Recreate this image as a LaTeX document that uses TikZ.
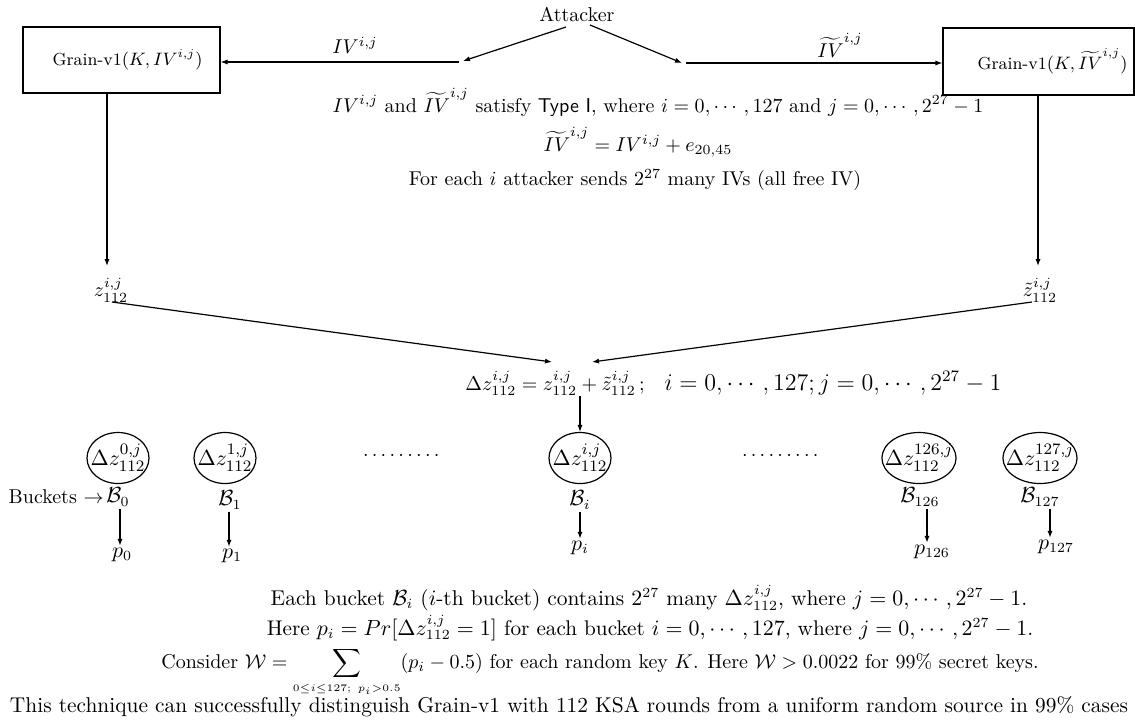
\documentclass[tikz,border=0pt]{standalone}
\usepackage{amsmath,amssymb}
\usetikzlibrary{shapes.geometric,arrows.meta}
\begin{document}
\begin{tikzpicture}[x=0.5pt,y=-0.5pt,
  arr/.style={-{Latex[length=3.5pt,width=2.6pt]},line width=0.6pt},
  gbox/.style={draw,line width=0.6pt,rectangle,inner sep=0pt,font=\fontsize{8.7}{10}\selectfont},
  bucket/.style={draw,ellipse,line width=0.6pt,inner xsep=-4pt,inner ysep=0pt,minimum width=31pt,minimum height=25.5pt,font=\fontsize{11}{13}\selectfont},
  txt/.style={inner sep=1pt},
  big/.style={inner sep=1pt,font=\fontsize{10.7}{13}\selectfont}]
\useasboundingbox (0,0) rectangle (1135,720);
% top
\node[txt] (att) at (577,14) {Attacker};
\node[gbox,minimum width=98.5pt,minimum height=33pt] (lbox) at (121.5,60) {\hspace*{6pt}Grain-v1$(K,IV^{i,j})$};
\node[gbox,minimum width=95.5pt,minimum height=33.5pt] (rbox) at (1038.5,61.5) {\hspace*{14pt}Grain-v1$(K,\widetilde{IV}^{i,j})$};
\coordinate (cL) at (463,61);
\coordinate (cL2) at (459,62);
\coordinate (cR) at (682,63);
\coordinate (cR2) at (686,63);
\draw[arr] (566,27) -- (cL);
\draw[arr] (cL2) -- (lbox.east |- cL2);
\draw[arr] (590,25) -- (cR);
\draw[arr] (cR2) -- (rbox.west |- cR2);
\node[txt] (lIV) at (355,45) {$IV^{i,j}$};
\node[txt] (rIV) at (840,45) {$\widetilde{IV}^{i,j}$};
% middle texts
\node[txt] (t1) at (658,102) {$IV^{i,j}$ and $\widetilde{IV}^{i,j}$ satisfy \textsf{Type I}, where $i=0,\cdots,127$ and $j=0,\cdots,2^{27}-1$};
\node[txt] (t2) at (638,142) {$\widetilde{IV}^{i,j}=IV^{i,j}+e_{20,45}$};
\node[txt] (t3) at (635,180) {For each $i$ attacker sends $2^{27}$ many IVs (all free IV)};
% z nodes
\node[txt] (z1) at (111,290) {$z^{i,j}_{112}$};
\node[txt] (z2) at (1040,290) {$\tilde{z}^{i,j}_{112}$};
\draw[arr] (lbox.south -| 107,0) -- (107,266);
\draw[arr] (rbox.south -| 1038,0) -- (1038,266);
\node[txt,anchor=base west] (delta) at (463,390) {$\Delta z^{i,j}_{112}=z^{i,j}_{112}+\tilde{z}^{i,j}_{112}\,;\quad$\fontsize{11.8}{13}\selectfont$i=0,\cdots,127;j=0,\cdots,2^{27}-1$};
\coordinate (dL) at (552,362);
\coordinate (dR) at (592,362);
\draw[arr] (112,302) -- (dL);
\draw[arr] (1032,302) -- (dR);
% buckets
\node[bucket] (e0) at (118,458) {$\Delta z^{0,j}_{112}$};
\node[bucket] (e1) at (225,458) {$\Delta z^{1,j}_{112}$};
\node[bucket] (ei) at (580,458) {$\Delta z^{i,j}_{112}$};
\node[bucket,minimum width=36pt] (e126) at (919,458) {$\Delta z^{126,j}_{112}$};
\node[bucket,minimum width=35pt] (e127) at (1040,458) {$\Delta z^{127,j}_{112}$};
\draw[arr] (580,396) -- (ei.north);
\node[txt] (dots1) at (403,456) {$\cdots\cdots\cdots$};
\node[txt] (dots2) at (782,456) {$\cdots\cdots\cdots$};
\node[big] (b0) at (118,497) {$\mathcal{B}_0$};
\node[txt,anchor=east,inner xsep=0pt] (bk) at (b0.west) {Buckets $\rightarrow$};
\node[big] (b1) at (230,500) {$\mathcal{B}_1$};
\node[big] (bi) at (580,500) {$\mathcal{B}_i$};
\node[big] (b126) at (920,497) {$\mathcal{B}_{126}$};
\node[big] (b127) at (1040,497) {$\mathcal{B}_{127}$};
\node[big] (p0) at (122,555) {$p_0$};
\node[big] (p1) at (232,556) {$p_1$};
\node[big] (pi) at (580,548) {$p_i$};
\node[big] (p126) at (932,552) {$p_{126}$};
\node[big] (p127) at (1056,547) {$p_{127}$};
\draw[arr] (b0.south -| 120,0) -- (p0.north -| 120,0);
\draw[arr] (b1.south -| 229,0) -- (p1.north -| 229,0);
\draw[arr] (bi) -- (pi);
\draw[arr] (b126.south -| 927,0) -- (p126.north -| 927,0);
\draw[arr] (b127.south -| 1050,0) -- (p127.north -| 1050,0);
% bottom texts
\node[big] (s1) at (649,598) {Each bucket $\mathcal{B}_i$ ($i$-th bucket) contains $2^{27}$ many $\Delta z^{i,j}_{112}$, where $j=0,\cdots,2^{27}-1$.};
\node[big,font=\fontsize{10.6}{13}\selectfont] (s2) at (650,628) {Here $p_i=Pr[\Delta z^{i,j}_{112}=1]$ for each bucket $i=0,\cdots,127$, where $j=0,\cdots,2^{27}-1$.};
\node[txt,anchor=base] (s3) at (600,668) {Consider $\mathcal{W}=\displaystyle\sum_{\scriptscriptstyle 0\le i\le 127;\ p_i>0.5}(p_i-0.5)$ for each random key $K$. Here $\mathcal{W}>0.0022$ for 99\% secret keys.};
\node[big,anchor=base] (s4) at (569,712) {This technique can successfully distinguish Grain-v1 with 112 KSA rounds from a uniform random source in 99\% cases};
\end{tikzpicture}
\end{document}
